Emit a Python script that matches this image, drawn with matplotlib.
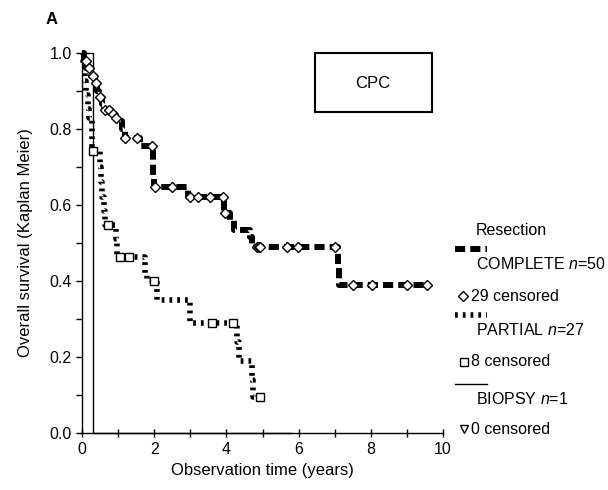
import numpy as np
import matplotlib
matplotlib.use("Agg")
import matplotlib.pyplot as plt
from matplotlib.lines import Line2D
from matplotlib.patches import Rectangle

plt.rcParams['font.family'] = ['Liberation Sans', 'DejaVu Sans']
plt.rcParams['mathtext.fontset'] = 'custom'
plt.rcParams['mathtext.it'] = 'Liberation Sans:italic'
plt.rcParams['mathtext.rm'] = 'Liberation Sans'

# ---- data ----
complete_t = [0, 0.05, 0.12, 0.25, 0.35, 0.42, 0.48, 0.55, 0.62, 0.8, 0.92, 1.05, 1.12, 1.18,
              1.6, 1.96, 1.98, 2.0, 2.95, 3.93, 4.1, 4.2, 4.65, 4.72, 7.08, 7.12, 9.55]
complete_s = [1.0, 0.98, 0.96, 0.94, 0.92, 0.90, 0.885, 0.865, 0.85, 0.84, 0.83, 0.82, 0.80, 0.775,
              0.755, 0.72, 0.68, 0.648, 0.62, 0.58, 0.56, 0.535, 0.515, 0.49, 0.44, 0.39, 0.39]
complete_cens = [0.1, 0.2, 0.3, 0.4, 0.5, 0.65, 0.75, 0.85, 0.95, 1.2, 1.52, 1.93, 2.02,
                 2.5, 3.0, 3.2, 3.55, 3.9, 3.96, 4.85, 4.9, 4.93, 5.68, 5.98, 7.0,
                 7.5, 8.03, 9.0, 9.55]

partial_t = [0, 0.04, 0.08, 0.12, 0.16, 0.2, 0.27, 0.5, 0.52, 0.55, 0.6, 0.65, 0.95,
             0.98, 1.75, 1.8, 2.07, 3.0, 4.3, 4.35, 4.7, 4.75, 4.93]
partial_s = [1.0, 0.963, 0.926, 0.889, 0.852, 0.83, 0.741, 0.70, 0.66, 0.62, 0.585,
             0.547, 0.51, 0.463, 0.42, 0.40, 0.35, 0.29, 0.24, 0.19, 0.14, 0.095, 0.095]
partial_cens = [0.3, 0.72, 1.05, 1.3, 2.0, 3.6, 4.18, 4.93]

biopsy_t = [0, 0.3, 5.8]
biopsy_s = [1.0, 0.0, 0.0]

x_ticks = [0, 2, 4, 6, 8, 10]
y_ticks = [0.0, 0.2, 0.4, 0.6, 0.8, 1.0]


def surv_at(times, surv, tc):
    idx = np.searchsorted(np.asarray(times), np.asarray(tc), side='right') - 1
    return np.asarray(surv)[idx]


W, H = 608, 490
fig = plt.figure(figsize=(W / 100, H / 100), dpi=100)


def fx(x):
    return x / W


def fy(y):
    return 1 - y / H


ax = fig.add_axes([fx(82), fy(433), fx(443) - fx(82), fy(53) - fy(433)])

# lines
ax.step(biopsy_t, biopsy_s, where='post', color='black', lw=1.0, clip_on=False, zorder=2)
lp, = ax.step(partial_t, partial_s, where='post', color='black', lw=4.0,
              clip_on=False, zorder=3)
lp.set_dashes((0.5, 0.9))
lp.set_dash_capstyle('butt')
lc, = ax.step(complete_t, complete_s, where='post', color='black', lw=4.3,
              clip_on=False, zorder=4)
lc.set_dashes((1.7, 0.85))
lc.set_dash_capstyle('butt')

# censor marks
ax.plot(complete_cens, surv_at(complete_t, complete_s, complete_cens), 'D',
        ms=5.5, mfc='white', mec='black', mew=1.0, clip_on=False, zorder=5)
ax.plot(partial_cens, surv_at(partial_t, partial_s, partial_cens), 's',
        ms=5.5, mfc='white', mec='black', mew=1.0, clip_on=False, zorder=5)

ax.set_xlim(0, 10)
ax.set_ylim(0, 1.0)
ax.set_xticks(x_ticks)
ax.set_xticklabels([str(v) for v in x_ticks])
ax.set_xticks(np.arange(0, 11, 1), minor=True)
ax.set_yticks(y_ticks)
ax.set_yticklabels([f"{v:.1f}" for v in y_ticks])
ax.set_yticks(np.arange(0, 1.01, 0.1), minor=True)
ax.tick_params(axis='x', which='both', direction='inout', length=6, width=1, labelsize=11.5)
ax.tick_params(axis='y', which='both', direction='out', length=4, width=1, labelsize=11.5)
for s in ['top', 'right']:
    ax.spines[s].set_visible(False)
for s in ['left', 'bottom']:
    ax.spines[s].set_linewidth(1.0)
ax.set_xlabel('Observation time (years)', fontsize=12, labelpad=4)
ax.set_ylabel('Overall survival (Kaplan Meier)', fontsize=12, labelpad=12)

fig.text(fx(46), fy(20), 'A', fontsize=12, fontweight='bold', ha='left', va='center')

# CPC box
fig.add_artist(Rectangle((fx(315), fy(112)), fx(432) - fx(315), fy(53) - fy(112),
                         transform=fig.transFigure, fill=False, ec='black', lw=1.5))
fig.text(fx(373), fy(83), 'CPC', fontsize=12, ha='center', va='center')

# legend (manual)
fs = 11.5
fig.text(fx(476), fy(230), 'Resection', fontsize=fs, ha='left', va='center')
l1 = Line2D([fx(455), fx(487)], [fy(249), fy(249)], transform=fig.transFigure,
            color='black', lw=4.3)
l1.set_dashes((1.7, 0.85)); l1.set_dash_capstyle('butt')
fig.add_artist(l1)
fig.text(fx(476), fy(264), 'COMPLETE $n$=50', fontsize=fs, ha='left', va='center')
fig.add_artist(Line2D([fx(463)], [fy(296)], transform=fig.transFigure, marker='D',
                      ms=5.5, mfc='white', mec='black', mew=1.0, ls='none'))
fig.text(fx(471), fy(296), '29 censored', fontsize=fs, ha='left', va='center')
l2 = Line2D([fx(455), fx(487)], [fy(315), fy(315)], transform=fig.transFigure,
            color='black', lw=4.0)
l2.set_dashes((0.5, 0.9)); l2.set_dash_capstyle('butt')
fig.add_artist(l2)
fig.text(fx(476), fy(330), 'PARTIAL $n$=27', fontsize=fs, ha='left', va='center')
fig.add_artist(Line2D([fx(464)], [fy(362)], transform=fig.transFigure, marker='s',
                      ms=5.5, mfc='white', mec='black', mew=1.0, ls='none'))
fig.text(fx(471), fy(362), '8 censored', fontsize=fs, ha='left', va='center')
fig.add_artist(Line2D([fx(455), fx(487)], [fy(384), fy(384)], transform=fig.transFigure,
                      color='black', lw=1.0))
fig.text(fx(476), fy(399), 'BIOPSY $n$=1', fontsize=fs, ha='left', va='center')
fig.add_artist(Line2D([fx(464)], [fy(429)], transform=fig.transFigure, marker='v',
                      ms=5.5, mfc='white', mec='black', mew=1.0, ls='none'))
fig.text(fx(471), fy(429), '0 censored', fontsize=fs, ha='left', va='center')

fig.savefig('out.png', dpi=100)
